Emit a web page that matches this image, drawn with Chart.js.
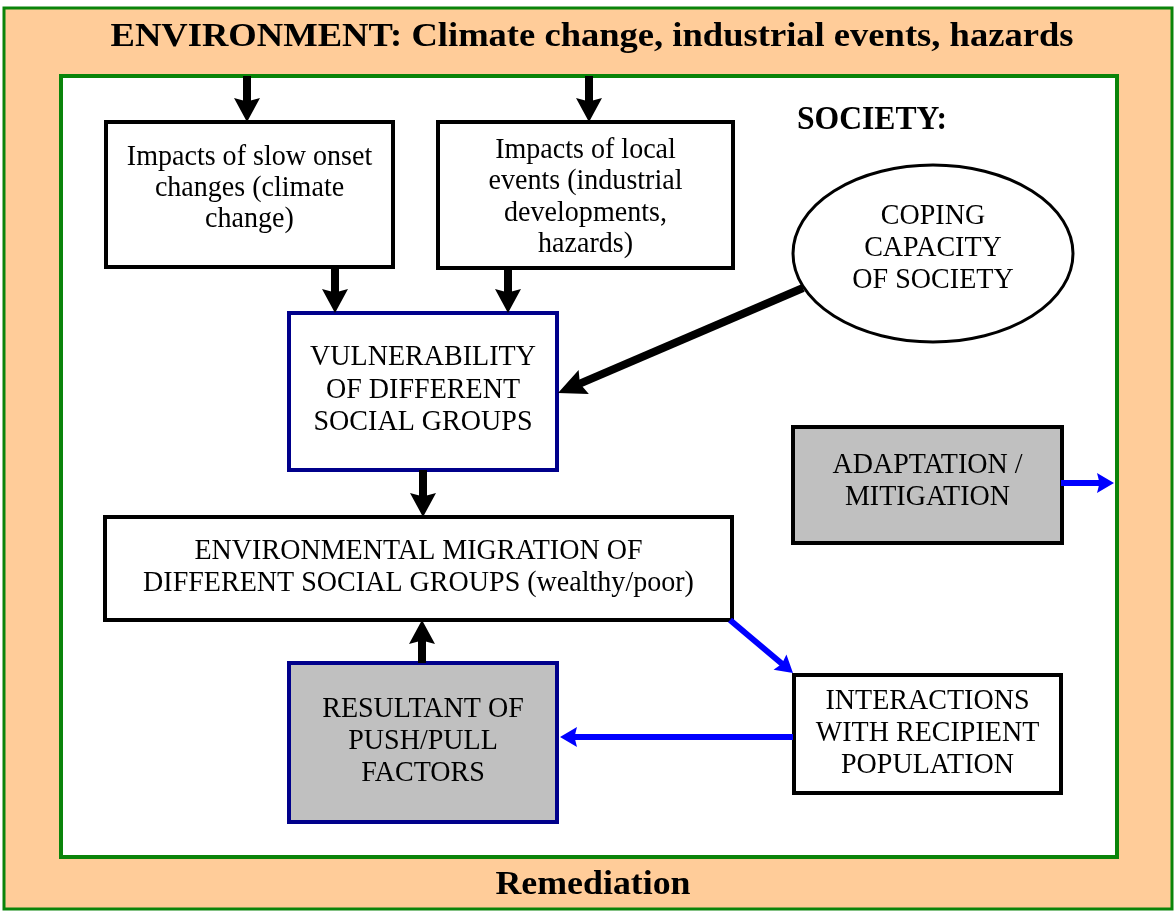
<!DOCTYPE html>
<html>
<head>
<meta charset="utf-8">
<script src="https://cdn.jsdelivr.net/npm/chart.js@4/dist/chart.umd.min.js"></script>
<style>
html,body{margin:0;padding:0;background:#fff;overflow:hidden;}
#wrap{width:1176px;height:911px;}
</style>
</head>
<body>
<div id="wrap"><canvas id="c" width="1176" height="911"></canvas></div>
<script>
// ---- diagram data (coordinates in a 1176 x 911 value space) ----
const nodeLabels = [
  ["Impacts of slow onset", "changes (climate", "change)"],
  ["Impacts of local", "events (industrial", "developments,", "hazards)"],
  ["VULNERABILITY", "OF DIFFERENT", "SOCIAL GROUPS"],
  ["ENVIRONMENTAL MIGRATION OF", "DIFFERENT SOCIAL GROUPS (wealthy/poor)"],
  ["RESULTANT OF", "PUSH/PULL", "FACTORS"],
  ["INTERACTIONS", "WITH RECIPIENT", "POPULATION"],
  ["ADAPTATION /", "MITIGATION"],
  ["COPING", "CAPACITY", "OF SOCIETY"]
];
const nodeLeft   = [106, 438, 289, 105, 289, 794, 793, 793];
const nodeTop    = [122, 122, 313, 517, 663, 675, 427, 165];
const nodeRight  = [393, 733, 557, 732, 557, 1061, 1062, 1073];
const nodeBottom = [267, 268, 470, 620, 822, 793, 543, 342];
const nodeTextMid = [188, 197, 390, 567, 741, 733, 481, 248];
const nodeLineGap = [31, 31.5, 32.5, 32, 32, 32, 32, 32];
const nodeShape = ["rect", "rect", "rect", "rect", "rect", "rect", "rect", "ellipse"];
const nodeStyle = ["plain", "plain", "navy", "plain", "navyGray", "plain", "gray", "plain"];

const edgeFromX = [247, 589, 335, 508, 423, 422, 803, 730, 793, 1061];
const edgeFromY = [76, 76, 267, 268, 470, 663, 288, 620, 737, 483];
const edgeToX   = [247, 589, 335, 508, 423, 422, 558, 793, 560, 1114];
const edgeToY   = [122, 122, 313, 313, 517, 620, 393, 673, 737, 483];
const edgeKind  = ["black", "black", "black", "black", "black", "black", "thick", "blue", "blue", "blue"];

const titleText = "ENVIRONMENT: Climate change, industrial events, hazards";
const footText = "Remediation";
const societyText = "SOCIETY:";

// ---- styles ----
const W = 1176, H = 911;
const PEACH = "#FFCC99", GREEN = "#0a840a", NAVY = "#00008B", GRAY = "#C0C0C0", BLUE = "#0000FF";
const BODY_FONT = "30px 'Liberation Serif', 'Times New Roman', serif";
const BODY_SX = 0.935;
const BOLD_FONT = "bold 34px 'Liberation Serif', 'Times New Roman', serif";
const arrowStyle = {
  black: {color: "#000", width: 8, len: 24, half: 13},
  thick: {color: "#000", width: 8, len: 28, half: 13},
  blue:  {color: BLUE, width: 6, len: 17, half: 10}
};

// build line datasets (shaft stops inside the arrow head)
const datasets = edgeKind.map((k, i) => {
  const st = arrowStyle[k];
  const dx = edgeToX[i] - edgeFromX[i], dy = edgeToY[i] - edgeFromY[i];
  const d = Math.hypot(dx, dy);
  const back = st.len * 0.6;
  return {
    data: [{x: edgeFromX[i], y: edgeFromY[i]},
           {x: edgeToX[i] - dx / d * back, y: edgeToY[i] - dy / d * back}],
    showLine: true, borderColor: st.color, borderWidth: st.width,
    pointRadius: 0, pointHoverRadius: 0, fill: false, tension: 0,
    borderCapStyle: "butt"
  };
});

function fitText(ctx, text, cx, cy, targetW, font) {
  ctx.save();
  ctx.font = font;
  const w = ctx.measureText(text).width;
  ctx.translate(cx, cy);
  ctx.scale(targetW / w, 1);
  ctx.textAlign = "center";
  ctx.textBaseline = "middle";
  ctx.fillStyle = "#000";
  ctx.fillText(text, 0, 0);
  ctx.restore();
}

function scaledText(ctx, text, cx, cy, sx, font) {
  ctx.save();
  ctx.font = font;
  ctx.translate(cx, cy);
  ctx.scale(sx, 1);
  ctx.textAlign = "center";
  ctx.textBaseline = "middle";
  ctx.fillStyle = "#000";
  ctx.fillText(text, 0, 0);
  ctx.restore();
}

const diagramPlugin = {
  id: "diagram",
  beforeDatasetsDraw(chart) {
    const ctx = chart.ctx, xs = chart.scales.x, ys = chart.scales.y;
    const px = v => xs.getPixelForValue(v), py = v => ys.getPixelForValue(v);
    ctx.save();
    // environment frame
    ctx.fillStyle = PEACH;
    ctx.fillRect(px(4), py(8), px(1172) - px(4), py(909) - py(8));
    ctx.strokeStyle = GREEN; ctx.lineWidth = 3;
    ctx.strokeRect(px(4), py(8), px(1172) - px(4), py(909) - py(8));
    // society frame
    ctx.fillStyle = "#fff";
    ctx.fillRect(px(61), py(76), px(1117) - px(61), py(857) - py(76));
    ctx.lineWidth = 4;
    ctx.strokeRect(px(61), py(76), px(1117) - px(61), py(857) - py(76));
    // texts of frames
    fitText(ctx, titleText, px(592), py(37), 963, BOLD_FONT);
    fitText(ctx, footText, px(593), py(885), 195, BOLD_FONT);
    fitText(ctx, societyText, px(872), py(120), 150, BOLD_FONT);
    // nodes
    nodeLabels.forEach((lines, i) => {
      const l = px(nodeLeft[i]), t = py(nodeTop[i]), r = px(nodeRight[i]), b = py(nodeBottom[i]);
      const style = nodeStyle[i];
      const fill = (style === "gray" || style === "navyGray") ? GRAY : "#fff";
      const stroke = (style === "navy" || style === "navyGray") ? NAVY : "#000";
      ctx.fillStyle = fill; ctx.strokeStyle = stroke;
      if (nodeShape[i] === "ellipse") {
        ctx.lineWidth = 3;
        ctx.beginPath();
        ctx.ellipse((l + r) / 2, (t + b) / 2, (r - l) / 2, (b - t) / 2, 0, 0, Math.PI * 2);
        ctx.fill(); ctx.stroke();
      } else {
        ctx.lineWidth = 4;
        ctx.fillRect(l, t, r - l, b - t);
        ctx.strokeRect(l, t, r - l, b - t);
      }
      const gap = nodeLineGap[i];
      const mid = py(nodeTextMid[i]);
      const n = lines.length;
      lines.forEach((s, k) => {
        scaledText(ctx, s, (l + r) / 2, mid + (k - (n - 1) / 2) * gap, BODY_SX, BODY_FONT);
      });
    });
    ctx.restore();
  },
  afterDatasetsDraw(chart) {
    const ctx = chart.ctx, xs = chart.scales.x, ys = chart.scales.y;
    ctx.save();
    edgeKind.forEach((k, i) => {
      const st = arrowStyle[k];
      const x0 = xs.getPixelForValue(edgeFromX[i]), y0 = ys.getPixelForValue(edgeFromY[i]);
      const x1 = xs.getPixelForValue(edgeToX[i]), y1 = ys.getPixelForValue(edgeToY[i]);
      const a = Math.atan2(y1 - y0, x1 - x0);
      const bx = x1 - Math.cos(a) * st.len, by = y1 - Math.sin(a) * st.len;
      const nx = -Math.sin(a) * st.half, ny = Math.cos(a) * st.half;
      ctx.fillStyle = st.color;
      ctx.beginPath();
      ctx.moveTo(x1, y1);
      ctx.lineTo(bx + nx, by + ny);
      ctx.lineTo(bx + Math.cos(a) * st.len * 0.15, by + Math.sin(a) * st.len * 0.15);
      ctx.lineTo(bx - nx, by - ny);
      ctx.closePath();
      ctx.fill();
    });
    ctx.restore();
  }
};

new Chart(document.getElementById("c"), {
  type: "scatter",
  data: {datasets},
  options: {
    responsive: false,
    animation: false,
    devicePixelRatio: 1,
    layout: {padding: 0},
    plugins: {legend: {display: false}, tooltip: {enabled: false}, title: {display: false}},
    events: [],
    scales: {
      x: {type: "linear", min: 0, max: W, display: false},
      y: {type: "linear", min: 0, max: H, reverse: true, display: false}
    }
  },
  plugins: [diagramPlugin]
});
</script>
</body>
</html>
